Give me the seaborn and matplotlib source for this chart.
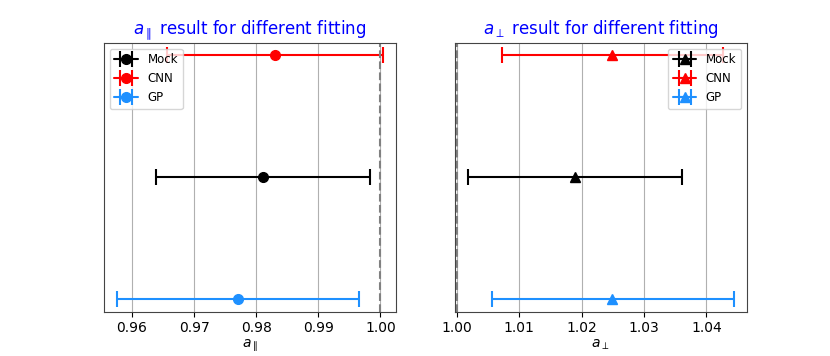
import numpy as np
import matplotlib
matplotlib.use('Agg')
import matplotlib.pyplot as plt
import seaborn as sns

# fitted values (centre, lower, upper)
methods = ['Mock', 'CNN', 'GP']
ypos = [1, 2, 0]
colors = ['black', 'red', 'dodgerblue']

a_par = [0.9811, 0.9831, 0.9771]
a_par_lo = [0.9639, 0.9657, 0.9576]
a_par_hi = [0.9983, 1.0004, 0.9965]

a_perp = [1.0190, 1.0249, 1.0249]
a_perp_lo = [1.0018, 1.0073, 1.0056]
a_perp_hi = [1.0361, 1.0427, 1.0444]

sns.set_style('ticks', rc={'text.color': 'black', 'axes.labelcolor': 'black'})
plt.rcParams['font.family'] = ['DejaVu Sans']

fig, axes = plt.subplots(1, 2, figsize=(8.3, 3.56), dpi=100)
plt.subplots_adjust(left=0.125, right=0.9, top=0.88, bottom=0.125, wspace=0.2)

panels = [
    (axes[0], a_par, a_par_lo, a_par_hi, 'o', r'$a_\parallel$', 'upper left'),
    (axes[1], a_perp, a_perp_lo, a_perp_hi, '^', r'$a_\perp$', 'upper right'),
]

for ax, val, lo, hi, mk, lab, loc in panels:
    for i in range(len(methods)):
        err = [[val[i] - lo[i]], [hi[i] - val[i]]]
        ax.errorbar([val[i]], [ypos[i]], xerr=err, marker=mk, ls='-', color=colors[i],
                    ms=7, lw=1.5, capsize=5.5, capthick=1.5, elinewidth=1.5,
                    label=methods[i])
    ax.axvline(1.0, color='gray', ls='--', lw=1.5)
    ax.set_yticks([])
    ax.grid(axis='x', color='#b0b0b0', lw=0.8)
    ax.set_axisbelow(True)
    ax.set_xlabel(lab, fontsize=10, labelpad=2)
    ax.set_title(lab + ' result for different fitting', color='blue', fontsize=12)
    ax.tick_params(axis='x', labelsize=10, colors='black')
    for s in ax.spines.values():
        s.set_color('#444444')
    ax.legend(loc=loc, fontsize=8.5)

axes[1].set_xlim(0.99967, 1.0465)

plt.savefig('out.png', dpi=100)
